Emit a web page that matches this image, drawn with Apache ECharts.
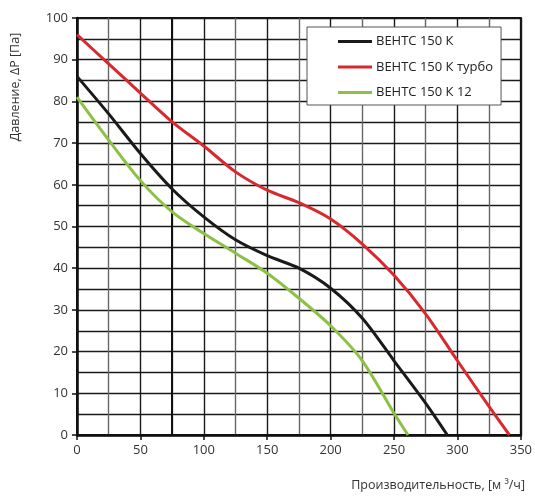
<!DOCTYPE html>
<html>
<head>
<meta charset="utf-8">
<script src="https://cdn.jsdelivr.net/npm/echarts@6/dist/echarts.min.js"></script>
<style>
html,body{margin:0;padding:0;background:#fff;}
#chart{width:535px;height:497px;}
</style>
</head>
<body>
<div id="chart"></div>
<script>
// данные
const seriesNames = ["ВЕНТС 150 К", "ВЕНТС 150 К турбо", "ВЕНТС 150 К 12"];
const flowBlack = [0, 25, 50, 75, 100, 125, 150, 175, 200, 225, 250, 275, 292];
const presBlack = [86, 77, 67.5, 59, 52.3, 46.8, 43, 40, 35.2, 28, 17.8, 7.6, 0];
const flowRed = [0, 25, 50, 75, 100, 125, 150, 175, 200, 225, 250, 275, 300, 325, 341];
const presRed = [96, 89, 82, 75.1, 69.3, 63.1, 58.7, 55.7, 51.8, 45.8, 38.3, 29, 17.8, 6.8, 0];
const flowGreen = [0, 25, 50, 75, 100, 125, 150, 175, 200, 225, 250, 261];
const presGreen = [81, 70.7, 61, 53.5, 48.3, 43.6, 38.8, 32.8, 26.2, 17.8, 5.2, 0];
const colors = ["#1a1a1a", "#d8292e", "#8dc145"];

const pairs = (xs, ys) => xs.map((x, i) => [x, ys[i]]);

const font = "'Open Sans', 'DejaVu Sans', sans-serif";

const initChart = () => {
    const myChart = echarts.init(document.getElementById("chart"));

    const mk = (name, data, color) => ({
        name: name,
        type: "line",
        data: data,
        smooth: 0.3,
        symbol: "none",
        lineStyle: {color: color, width: 3},
        itemStyle: {color: color},
        z: 5
    });

    const black = mk(seriesNames[0], pairs(flowBlack, presBlack), colors[0]);
    // жирная вертикаль на 75
    black.markLine = {
        silent: true,
        symbol: "none",
        label: {show: false},
        lineStyle: {color: "#111", width: 2, type: "solid"},
        data: [{xAxis: 75}],
        z: 1
    };

    myChart.setOption({
        animation: false,
        textStyle: {fontFamily: font},
        grid: {
            left: 77, right: 12, top: 18, bottom: 62,
            show: true, borderColor: "#111", borderWidth: 2
        },
        legend: {
            orient: "vertical",
            left: 307,
            top: 27,
            padding: [8, 8, 6, 31],
            itemGap: 12.5,
            itemWidth: 34,
            itemHeight: 14,
            backgroundColor: "#fff",
            borderColor: "#555",
            borderWidth: 1,
            borderRadius: 0,
            itemStyle: {borderWidth: 0},
            textStyle: {fontFamily: font, fontSize: 13, color: "#222", padding: [0, 0, 0, -1]},
            data: seriesNames.map((n) => ({name: n, icon: "path://M0,6 L34,6 L34,9 L0,9 Z"}))
        },
        xAxis: {
            type: "value",
            min: 0, max: 350, interval: 50,
            axisLine: {show: true, lineStyle: {color: "#111", width: 2.5}},
            axisTick: {show: true, length: 5, lineStyle: {color: "#111", width: 1.5}},
            axisLabel: {color: "#333", fontSize: 13, margin: 9, fontFamily: font},
            splitLine: {show: true, lineStyle: {color: "#1a1a1a", width: 1.4}},
            minorTick: {show: false, splitNumber: 2},
            minorSplitLine: {show: true, lineStyle: {color: "#666", width: 1.4}}
        },
        yAxis: {
            type: "value",
            min: 0, max: 100, interval: 10,
            axisLine: {show: true, lineStyle: {color: "#111", width: 2.5}},
            axisTick: {show: true, length: 5, lineStyle: {color: "#111", width: 1.5}},
            axisLabel: {color: "#333", fontSize: 13, margin: 9, fontFamily: font},
            splitLine: {show: true, lineStyle: {color: "#1a1a1a", width: 1.4}},
            minorTick: {show: false, splitNumber: 2},
            minorSplitLine: {show: true, lineStyle: {color: "#1a1a1a", width: 1.4}}
        },
        graphic: [
            {
                type: "text",
                x: 15, y: 87,
                rotation: Math.PI / 2,
                style: {
                    text: "Давление, ΔР [Па]",
                    fontFamily: font, fontSize: 12.5, fill: "#333",
                    align: "center", verticalAlign: "middle"
                }
            },
            {
                type: "text",
                x: 525, y: 485,
                style: {
                    text: "Производительность, [м ³/ч]",
                    fontFamily: font, fontSize: 12.5, fill: "#333",
                    align: "right", verticalAlign: "middle"
                }
            }
        ],
        series: [
            black,
            mk(seriesNames[1], pairs(flowRed, presRed), colors[1]),
            mk(seriesNames[2], pairs(flowGreen, presGreen), colors[2])
        ]
    });
};

window.addEventListener("load", initChart);
</script>
</body>
</html>
